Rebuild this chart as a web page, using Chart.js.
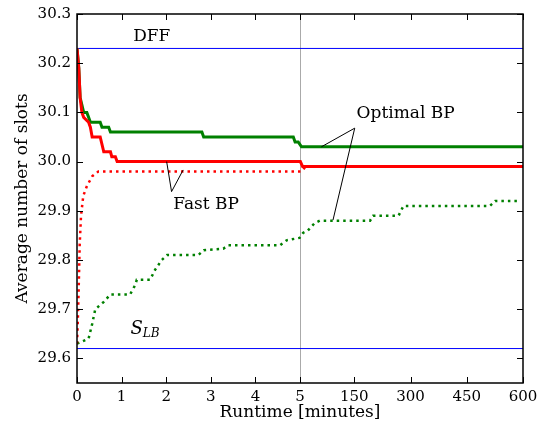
<!DOCTYPE html>
<html>
<head>
<meta charset="utf-8">
<script src="https://cdn.jsdelivr.net/npm/chart.js@4.4.0/dist/chart.umd.min.js"></script>
<style>
  html, body { margin: 0; padding: 0; background: #fff; }
  canvas { display: block; }
</style>
</head>
<body>
<canvas id="chart" width="544" height="426"></canvas>
<script>
// axis ticks
const xTickMinutes = [0, 1, 2, 3, 4, 5, 150, 300, 450, 600];
const yTicks = [29.6, 29.7, 29.8, 29.9, 30.0, 30.1, 30.2, 30.3];
const splitMinute = 5;
const lastMinute = 600;

// reference levels
const dffLevel = 30.23;
const lowerBoundLevel = 29.62;

// Fast BP (solid = upper, dotted = lower)
const fastUpperTimes = [0, 0.04, 0.07, 0.11, 0.15, 0.26, 0.30, 0.34, 0.52, 0.60, 0.75, 0.78, 0.86, 0.90, 6, 12, 600];
const fastUpperValues = [30.23, 30.19, 30.13, 30.10, 30.09, 30.08, 30.07, 30.05, 30.05, 30.02, 30.02, 30.01, 30.01, 30.00, 30.00, 29.99, 29.99];
const fastLowerTimes = [0, 0.02, 0.04, 0.06, 0.09, 0.14, 0.22, 0.34, 0.48, 10, 20, 600];
const fastLowerValues = [29.63, 29.68, 29.75, 29.83, 29.89, 29.93, 29.95, 29.97, 29.98, 29.98, 29.99, 29.99];

// Optimal BP
const optUpperTimes = [0, 0.04, 0.07, 0.15, 0.22, 0.26, 0.30, 0.52, 0.56, 0.71, 0.75, 2.80, 2.84, 4.85, 4.89, 4.96, 9, 600];
const optUpperValues = [30.23, 30.19, 30.13, 30.10, 30.10, 30.09, 30.08, 30.08, 30.07, 30.07, 30.06, 30.06, 30.05, 30.05, 30.04, 30.04, 30.03, 30.03];
const optLowerTimes = [0, 0.26, 0.34, 0.41, 0.60, 0.75, 1.19, 1.31, 1.34, 1.64, 1.75, 1.90, 2.02, 2.72, 2.84, 3.28, 3.39, 4.55, 4.70, 4.99, 13, 26, 44, 58, 192, 200, 268, 281, 512, 526, 585];
const optLowerValues = [29.63, 29.64, 29.67, 29.70, 29.715, 29.73, 29.73, 29.75, 29.76, 29.76, 29.78, 29.80, 29.81, 29.81, 29.82, 29.823, 29.83, 29.83, 29.84, 29.845, 29.855, 29.86, 29.875, 29.88, 29.88, 29.89, 29.89, 29.91, 29.91, 29.92, 29.92];

// labels and arrows, in minutes / slots
const notes = [
  { text: 'Fast BP', at: [2.16, 29.912], from: [2.12, 29.939], to: [[2.01, 30.0], [2.38, 29.983]] },
  { text: 'Optimal BP', at: [156, 30.097], from: [151, 30.068], to: [[62, 30.03], [93, 29.881]] },
  { text: 'DFF', at: [1.26, 30.254] }
];
const lowerBoundLabelAt = [1.2, 29.659];

const serif = "'DejaVu Serif', serif";

// left half: 0-5 minutes, right half: 5-600 minutes
function toAxis(t) {
  if (t <= splitMinute) return t;
  return splitMinute + (t - splitMinute) / (lastMinute - splitMinute) * splitMinute;
}
function points(times, values) {
  return times.map((t, i) => ({ x: toAxis(t), y: values[i] }));
}
function flat(level) {
  return [{ x: 0, y: level }, { x: toAxis(lastMinute), y: level }];
}

const decorPlugin = {
  id: 'decor',
  beforeDatasetsDraw(chart) {
    const { ctx, chartArea: a, scales: { x } } = chart;
    const sx = Math.round(x.getPixelForValue(toAxis(splitMinute))) + 0.5;
    ctx.save();
    ctx.strokeStyle = '#aaaaaa';
    ctx.lineWidth = 1;
    ctx.beginPath();
    ctx.moveTo(sx, a.top);
    ctx.lineTo(sx, a.bottom);
    ctx.stroke();
    ctx.restore();
  },
  afterDatasetsDraw(chart) {
    const { ctx, chartArea: a, scales: { x, y } } = chart;
    const px = (t) => x.getPixelForValue(toAxis(t));
    ctx.save();

    // ticks pointing inwards
    ctx.strokeStyle = '#000';
    ctx.lineWidth = 1;
    ctx.beginPath();
    xTickMinutes.forEach(t => {
      const p = Math.round(px(t)) + 0.5;
      ctx.moveTo(p, a.bottom); ctx.lineTo(p, a.bottom - 6);
      ctx.moveTo(p, a.top); ctx.lineTo(p, a.top + 6);
    });
    yTicks.forEach(v => {
      const p = Math.round(y.getPixelForValue(v)) + 0.5;
      ctx.moveTo(a.left, p); ctx.lineTo(a.left + 6, p);
      ctx.moveTo(a.right, p); ctx.lineTo(a.right - 6, p);
    });
    ctx.stroke();

    // frame
    ctx.lineWidth = 1.5;
    ctx.strokeRect(a.left, a.top, a.right - a.left, a.bottom - a.top);

    // notes
    ctx.fillStyle = '#000';
    ctx.font = '17px ' + serif;
    ctx.textBaseline = 'middle';
    ctx.textAlign = 'left';
    notes.forEach(n => {
      if (n.from) {
        ctx.lineWidth = 1;
        ctx.beginPath();
        n.to.forEach(([t, v]) => {
          ctx.moveTo(px(n.from[0]), y.getPixelForValue(n.from[1]));
          ctx.lineTo(px(t), y.getPixelForValue(v));
        });
        ctx.stroke();
      }
      ctx.fillText(n.text, px(n.at[0]), y.getPixelForValue(n.at[1]));
    });

    // S_LB
    const lx = px(lowerBoundLabelAt[0]);
    const ly = y.getPixelForValue(lowerBoundLabelAt[1]);
    ctx.font = 'italic 18px ' + serif;
    ctx.fillText('S', lx, ly);
    const sw = ctx.measureText('S').width;
    ctx.font = 'italic 12px ' + serif;
    ctx.fillText('LB', lx + sw, ly + 5);

    ctx.restore();
  }
};

new Chart(document.getElementById('chart'), {
  type: 'line',
  data: {
    datasets: [
      { data: points(fastUpperTimes, fastUpperValues), borderColor: '#ff0000', borderWidth: 3 },
      { data: points(optUpperTimes, optUpperValues), borderColor: '#008000', borderWidth: 3 },
      { data: points(fastLowerTimes, fastLowerValues), borderColor: '#ff0000', borderWidth: 2.5, borderDash: [2.5, 4] },
      { data: points(optLowerTimes, optLowerValues), borderColor: '#008000', borderWidth: 2.5, borderDash: [2.5, 4] },
      { data: flat(dffLevel), borderColor: '#0000ff', borderWidth: 1 },
      { data: flat(lowerBoundLevel), borderColor: '#0000ff', borderWidth: 1 }
    ]
  },
  options: {
    responsive: false,
    animation: false,
    layout: { padding: { left: 0, right: 21, top: 14, bottom: 0 } },
    elements: { point: { radius: 0 }, line: { tension: 0, fill: false } },
    plugins: { legend: { display: false }, tooltip: { enabled: false } },
    scales: {
      x: {
        type: 'linear',
        min: 0,
        max: toAxis(lastMinute),
        grid: { display: false },
        border: { display: false },
        afterBuildTicks: (s) => { s.ticks = xTickMinutes.map(t => ({ value: toAxis(t) })); },
        afterFit: (s) => { s.height = 43; },
        ticks: {
          autoSkip: false, maxRotation: 0, padding: -3,
          color: '#000', font: { family: serif, size: 15 },
          callback: (v, i) => String(xTickMinutes[i])
        },
        title: {
          display: true, text: 'Runtime [minutes]', color: '#000',
          font: { family: serif, size: 17 }, padding: { top: 0, bottom: 3 }
        }
      },
      y: {
        type: 'linear',
        min: 29.55,
        max: 30.3,
        grid: { display: false },
        border: { display: false },
        afterBuildTicks: (s) => { s.ticks = yTicks.map(v => ({ value: v })); },
        afterFit: (s) => { s.width = 77; },
        ticks: {
          autoSkip: false, padding: -2,
          color: '#000', font: { family: serif, size: 15 },
          callback: (v) => v.toFixed(1)
        },
        title: {
          display: true, text: 'Average number of slots', color: '#000',
          font: { family: serif, size: 17 }, padding: { top: 12, bottom: 0 }
        }
      }
    }
  },
  plugins: [decorPlugin]
});
</script>
</body>
</html>
